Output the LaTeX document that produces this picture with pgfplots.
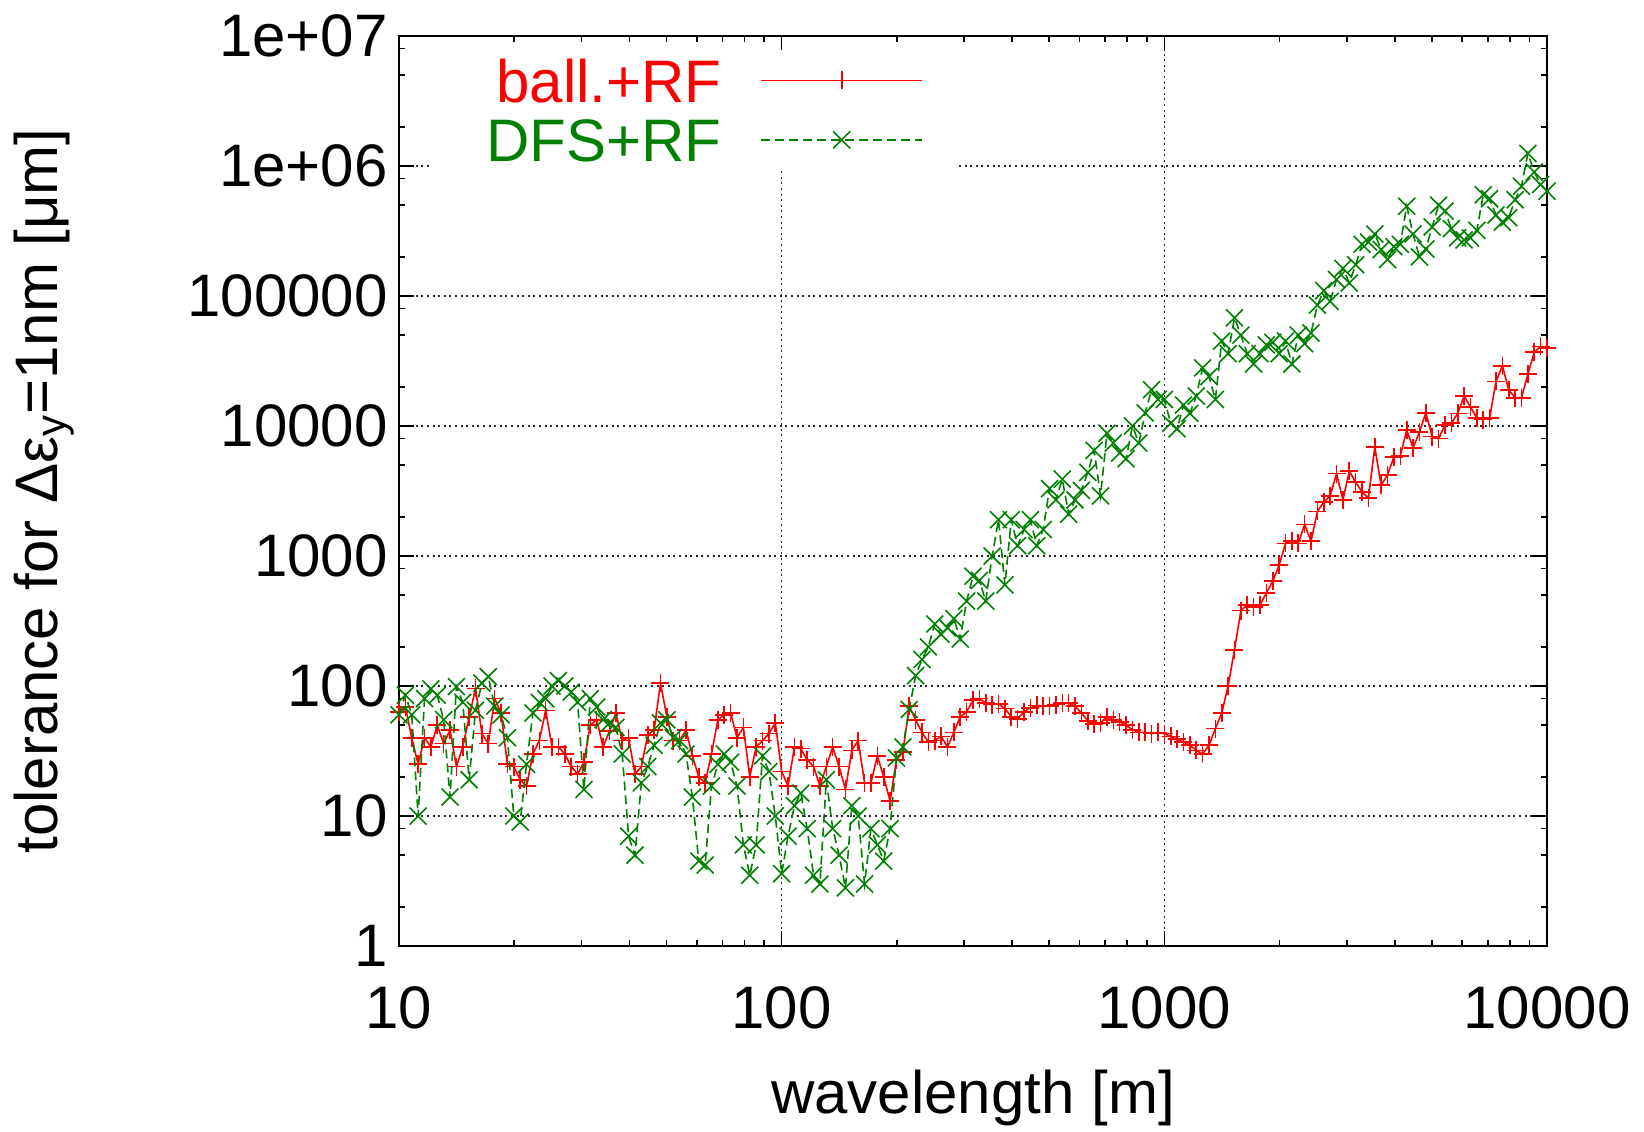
\documentclass[border=0pt]{standalone}
\usepackage{fontspec}
\setmainfont{Liberation Sans}
\usepackage{pgfplots}
\usepackage{pgfplotstable}
\pgfplotsset{compat=1.18}
\definecolor{gpred}{RGB}{255,0,0}
\definecolor{gpgreen}{RGB}{0,128,0}

\pgfplotstableread{
x r g
10.000 63 60
10.391 69 85
10.798 40 60
11.220 25 10
11.659 40 80
12.115 34 95
12.589 50 85
13.082 36 55
13.594 46 14
14.125 24 99
14.678 34 75
15.252 58 19
15.849 96 65
16.469 43 105
17.113 36 118
17.783 80 70
18.478 62 60
19.201 25 40
19.953 24 10
20.733 19 9
21.544 17 25
22.387 30 62
23.263 38 75
24.173 65 80
25.119 34 100
26.102 34 110
27.123 30 100
28.184 24 90
29.286 21 75
30.432 26 16
31.623 50 80
32.860 55 69
34.145 34 55
35.481 45 52
36.869 62 48
38.312 38 30
39.811 40 7
41.368 21 5
42.987 24 18
44.668 42 24
46.416 46 35
48.232 105 52
50.119 58 55
52.080 38 40
54.117 38 38
56.234 46 30
58.434 29 14
60.720 20 4.5
63.096 18 4.2
65.564 30 17
68.129 55 25
70.795 60 30
73.564 62 26
76.442 40 17
79.433 48 6
82.540 20 3.5
85.770 34 6
89.125 38 29
92.612 43 22
96.235 52 10
100.00 22 3.6
103.91 17 7
107.98 34 12
112.20 33 15
116.59 27 8
121.15 24 3.5
125.89 17 3
130.82 24 19
135.94 34 8
141.25 24 5
146.78 16 2.8
152.52 32 12
158.49 38 10
164.69 18 3
171.13 18 8
177.83 29 6
184.78 20 4.5
192.01 13 8
199.53 27 28
207.33 31 34
215.44 70 66
223.87 55 120
232.63 44 160
241.73 37 200
251.19 38 300
261.02 41 250
271.23 34 280
281.84 44 330
292.86 58 230
304.32 63 450
316.23 78 700
328.60 80 650
341.45 74 450
354.81 72 1000
368.70 73 1900
383.12 67 600
398.11 58 1900
413.68 56 1200
429.87 63 1600
446.68 68 1900
464.16 71 1200
482.32 70 1600
501.19 70 3300
520.80 72 2700
541.17 74 3900
562.34 74 2100
584.34 70 2700
607.20 62 3200
630.96 54 4400
655.64 51 6500
681.29 52 2900
707.95 58 8800
735.64 55 7400
764.42 53 6200
794.33 50 5600
825.40 46 10000
857.70 44 7400
891.25 44 12600
926.12 43 19000
962.35 44 16000
1000.0 43 16000
1039.1 41 10500
1079.8 39 9500
1122.0 37 14500
1165.9 35 12500
1211.5 32 17000
1258.9 30 28000
1308.2 35 24000
1359.4 47 16000
1412.5 62 45000
1467.8 100 36000
1525.2 190 68000
1584.9 380 50000
1646.9 420 36000
1711.3 405 30000
1778.3 420 36000
1847.8 520 42000
1920.1 640 44000
1995.3 850 36000
2073.3 1250 45000
2154.4 1300 30000
2238.7 1250 50000
2326.3 1750 43000
2417.3 1300 52000
2511.9 2200 85000
2610.2 2600 110000
2712.3 2900 91000
2818.4 4300 134000
2928.6 2700 163000
3043.2 4500 126000
3162.3 3700 174000
3286.0 3100 250000
3414.5 2800 260000
3548.1 6900 300000
3687.0 3500 228000
3831.2 4200 191000
3981.1 5800 240000
4136.8 5900 250000
4298.7 9300 490000
4466.8 6800 300000
4641.6 9000 200000
4823.2 12600 230000
5011.9 8300 340000
5208.0 8000 500000
5411.7 10200 450000
5623.4 10500 330000
5843.4 12500 280000
6072.0 17000 270000
6309.6 14000 280000
6556.4 11500 320000
6812.9 11200 600000
7079.5 11500 560000
7356.4 22000 420000
7644.2 29000 370000
7943.3 19000 400000
8254.0 16500 550000
8577.0 16500 700000
8912.5 25000 1250000
9261.2 37000 900000
9623.5 41000 720000
10000 40000 640000
}\datatable

\begin{document}
\begin{tikzpicture}
\begin{axis}[
  name=ax,
  scale only axis,
  width=574bp, height=455bp,
  xmode=log, ymode=log,
  xmin=10, xmax=10000, ymin=1, ymax=1e7,
  xtick={10,100,1000,10000},
  xticklabels={10,100,1000,10000},
  ytick={1,10,100,1000,10000,100000,1000000,10000000},
  yticklabels={1,10,100,1000,10000,100000,1e+06,1e+07},
  minor xtick={20,30,40,50,60,70,80,90,200,300,400,500,600,700,800,900,2000,3000,4000,5000,6000,7000,8000,9000},
  minor ytick={2,5,8,20,50,80,200,500,800,2000,5000,8000,20000,50000,80000,200000,500000,800000,2000000,5000000,8000000},
  tick align=inside,
  major tick length=7.5bp,
  minor tick length=3bp,
  every tick/.style={black, line width=0.8bp},
  axis line style={black, line width=1.2bp},
  grid=major,
  major grid style={black!85, line width=0.6bp, dash pattern=on 1bp off 1.8bp},
  tick label style={font=\fontsize{30bp}{36bp}\selectfont},
  xticklabel style={anchor=north, inner sep=0pt, yshift=-20bp},
  yticklabel style={anchor=east, inner sep=0pt, xshift=-5.5bp},
  label style={font=\fontsize{30bp}{36bp}\selectfont},
  xlabel={wavelength [m]},
  ylabel={tolerance for Δε\textsubscript{y}=1nm [μm]},
  xlabel style={at={(axis description cs:0.5,0)}, anchor=center, yshift=-76bp},
  ylabel style={at={(axis description cs:-0.3092,0.5)}, anchor=center},
  clip mode=individual,
  legend plot pos=right,
  legend cell align=right,
  legend image code/.code={
    \draw[mark repeat=2,mark phase=2,#1] plot coordinates {(0bp,0bp) (40.25bp,0bp) (80.5bp,0bp)};
    \path[draw=none] (0bp,0bp) -- (97.5bp,0bp);
  },
  legend style={
    at={(axis description cs:0,1)}, anchor=north west,
    xshift=15.5bp, yshift=-7bp,
    draw=none, fill=white,
    inner xsep=0pt, inner ysep=4bp,
    row sep=7.75bp, column sep=19.5bp,
    font=\fontsize{30bp}{36bp}\selectfont,
    nodes={inner sep=0pt, text height=22bp, text depth=0pt, text width=145.5bp, align=right},
  },
]
\addplot[color=gpred, line width=0.8bp, mark=+, mark size=4.5bp,
  mark options={solid, line width=0.8bp}]
  table[x=x, y=r]{\datatable};
\addlegendentry{\textcolor{gpred}{ball.+RF}}
\addplot[color=gpgreen, line width=0.8bp, dash pattern=on 4.5bp off 2.5bp,
  mark=x, mark size=6bp, mark options={solid, line width=0.8bp}]
  table[x=x, y=g]{\datatable};
\addlegendentry{\textcolor{gpgreen}{DFS+RF}}
\end{axis}
\pgfresetboundingbox
\path ([shift={(-199.5bp,-92.5bp)}]ax.south west) rectangle ([shift={(48.5bp,18bp)}]ax.north east);
\end{tikzpicture}
\end{document}
